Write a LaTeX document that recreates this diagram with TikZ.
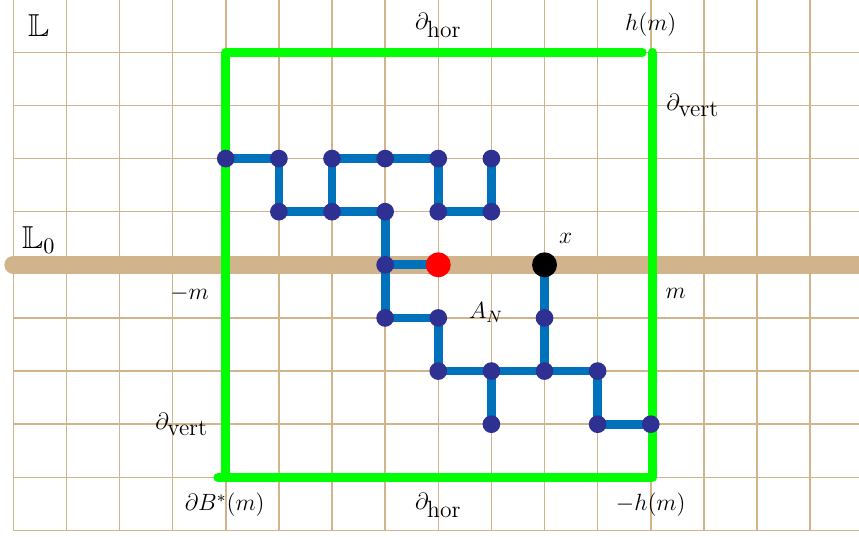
\RequirePackage{fix-cm}
\documentclass[tikz,border=0pt]{standalone}
\usepackage{amssymb}
\definecolor{gridtan}{RGB}{210,180,140}
\definecolor{boxgreen}{RGB}{0,255,0}
\definecolor{edgeblue}{RGB}{0,114,187}
\definecolor{dotblue}{RGB}{46,49,146}
\begin{document}
\begin{tikzpicture}[x=1cm,y=1cm,
  dot/.style={circle,fill=dotblue,inner sep=0pt,minimum size=0.333cm},
  bigdot/.style={circle,inner sep=0pt,minimum size=0.47cm},
  edge/.style={edgeblue,line width=4.7pt,line cap=round},
  bnd/.style={boxgreen,line width=4.7pt,line cap=round,line join=round},
  lbl/.style={font=\fontsize{12.6}{15}\selectfont},
  biglbl/.style={font=\fontsize{17}{20}\selectfont}]
\useasboundingbox (-0.25,-0.105) rectangle (15.92,9.985);
% lattice
\draw[gridtan,line width=0.8pt] (0,0) grid (16,10.5);
% the line L_0
\draw[gridtan,line width=9.6pt,line cap=round] (0,5) -- (16.5,5);
% boundary of the box
\draw[bnd] (4,1) -- (4,9) -- (11.84,9);
\draw[bnd] (12.03,9) -- (12.03,1);
\draw[bnd] (3.85,1) -- (12.03,1);
% sites
\foreach \i/\j in {4/7,5/7,6/7,7/7,8/7,9/7,5/6,6/6,7/6,8/6,9/6,7/5,8/5,10/5,7/4,8/4,10/4,8/3,9/3,10/3,11/3,9/2,11/2,12/2}
  \coordinate (p\i\j) at (\i,\j);
% bonds
\draw[edge] (p47) -- (p57) -- (p56) -- (p66) -- (p76);
\draw[edge] (p66) -- (p67);
\draw[edge] (p67) -- (p77) -- (p87) -- (p86) -- (p96) -- (p97);
\draw[edge] (p76) -- (p75) -- (p74) -- (p84) -- (p83) -- (p93) -- (p103) -- (p113) -- (p112) -- (p122);
\draw[edge] (p75) -- (p85);
\draw[edge] (p93) -- (p92);
\draw[edge] (p103) -- (p104) -- (p105);
% dots
\foreach \i/\j in {4/7,5/7,6/7,7/7,8/7,9/7,5/6,6/6,7/6,8/6,9/6,7/5,7/4,8/4,10/4,8/3,9/3,10/3,11/3,9/2,11/2,12/2}
  \node[dot] (d\i\j) at (p\i\j) {};
\node[bigdot,fill=red] (origin) at (p85) {};
\node[bigdot,fill=black] (x) at (p105) {};
% labels
\node[biglbl] (lL) at (0.48,9.5) {$\mathbb{L}$};
\node[biglbl] (lL0) at (0.48,5.47) {$\mathbb{L}_0$};
\node[lbl] (htop) at (8,9.5) {$\partial_{\textrm{hor}}$};
\node[lbl] (hm) at (12,9.52) {$h(m)$};
\node[lbl] (vright) at (12.79,8) {$\partial_{\textrm{vert}}$};
\node[lbl] (mneg) at (3.32,4.46) {$-m$};
\node[lbl] (mpos) at (12.47,4.46) {$m$};
\node[lbl] (lx) at (10.4,5.5) {$x$};
\node[lbl] (AN) at (8.9,4.1) {$A_N$};
\node[lbl] (vleft) at (3.17,2) {$\partial_{\textrm{vert}}$};
\node[lbl] (dB) at (3.98,0.48) {$\partial B^*(m)$};
\node[lbl] (hbot) at (8,0.47) {$\partial_{\textrm{hor}}$};
\node[lbl] (hmneg) at (12,0.49) {$-h(m)$};
\end{tikzpicture}
\end{document}
